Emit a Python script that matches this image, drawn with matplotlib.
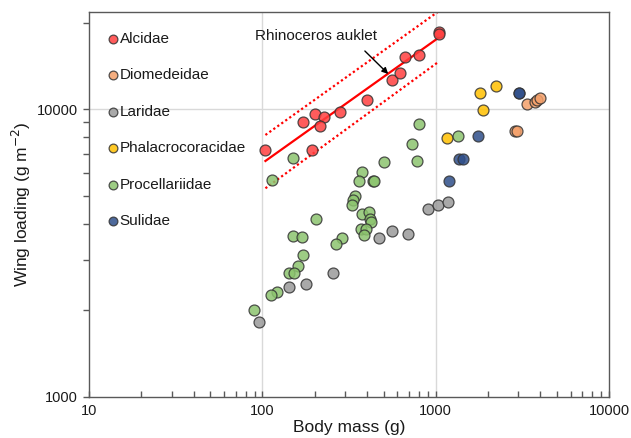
import matplotlib
matplotlib.use("Agg")
import matplotlib.pyplot as plt
from matplotlib.ticker import LogLocator, NullFormatter, FixedLocator, FixedFormatter

plt.rcParams['font.family'] = ['Liberation Sans', 'DejaVu Sans']

# ---------------- data ----------------
alcidae_x = [104, 172, 201, 226, 215, 192, 279, 402, 561, 619, 667, 800, 1039, 1039]
alcidae_y = [7220, 9050, 9630, 9380, 8770, 7220, 9760, 10780, 12650, 13350, 15170, 15490, 18620, 18240]

diomedeidae_x = [3373, 3720, 3850, 3991, 2854, 2930]
diomedeidae_y = [10430, 10560, 10750, 10970, 8400, 8430]

laridae_x = [95.5, 141.6, 177.6, 256, 470, 561, 694, 902, 1034, 1171]
laridae_y = [1824, 2403, 2467, 2694, 3575, 3781, 3674, 4499, 4645, 4758]

phalacro_x = [1806, 2226, 1880, 1160]
phalacro_y = [11370, 12080, 9945, 7930]

procell_x = [800, 732, 779, 502, 377, 360, 436, 443, 151, 114, 340, 335, 328,
             203, 375, 412, 417, 423, 370, 395, 385, 150.6, 168, 288, 267,
             172, 161, 142, 152, 121.7, 112, 89.7, 1352]
procell_y = [8890, 7570, 6610, 6555, 6066, 5630, 5607, 5652, 6770, 5675, 4992,
             4835, 4627, 4142, 4311, 4391, 4162, 4054, 3832, 3842, 3661, 3632,
             3594, 3557, 3407, 3105, 2856, 2688, 2688, 2314, 2259, 2003, 8054]

sulidae_x = [3008, 3008, 1752, 1356, 1430, 1197]
sulidae_y = [11420, 11420, 8092, 6732, 6716, 5617]

# regression line and prediction band for Alcidae
fit_x = [104, 1040]
fit_y = [6610, 17750]
band_upper_y = [8140, 21930]
band_lower_y = [5310, 14640]

series = [
    ("Alcidae", alcidae_x, alcidae_y, "#FF3F3F"),
    ("Diomedeidae", diomedeidae_x, diomedeidae_y, "#F4A06A"),
    ("Laridae", laridae_x, laridae_y, "#9A9A9A"),
    ("Phalacrocoracidae", phalacro_x, phalacro_y, "#FFC000"),
    ("Procellariidae", procell_x, procell_y, "#8CC46E"),
    ("Sulidae", sulidae_x, sulidae_y, "#2F4F8A"),
]

# ---------------- figure ----------------
fig = plt.figure(figsize=(6.31, 4.38), dpi=100)
ax = fig.add_axes([0.1414, 0.0943, 0.8237, 0.8783])
ax.set_xscale('log')
ax.set_yscale('log')
ax.set_xlim(10, 10000)
ax.set_ylim(1000, 21800)

# grid
for gx in [100, 1000]:
    ax.axvline(gx, color='#D9D9D9', lw=1.0, zorder=0)
ax.axhline(10000, color='#D9D9D9', lw=1.0, zorder=0)

# regression lines
ax.plot(fit_x, fit_y, color='#FF0000', lw=1.6, zorder=2)
ax.plot(fit_x, band_upper_y, color='#FF0000', lw=1.6, ls=(0, (1, 1.2)), zorder=2)
ax.plot(fit_x, band_lower_y, color='#FF0000', lw=1.6, ls=(0, (1, 1.2)), zorder=2)

for name, xs, ys, c in series:
    ax.scatter(xs, ys, s=62, color=c, edgecolor='#333333', linewidth=0.9,
               alpha=0.85, label=name, zorder=3)

ax.text(90.5, 17990, "Rhinoceros auklet", fontsize=11, color='#1a1a1a',
        va='center', ha='left', zorder=4)
ax.annotate("", xy=(532, 13270), xytext=(390, 15950),
            arrowprops=dict(arrowstyle='-|>', color='black', lw=1.0,
                            shrinkA=0, shrinkB=0, mutation_scale=9), zorder=4)

# axes styling
for sp in ax.spines.values():
    sp.set_color('#595959')
    sp.set_linewidth(1.0)

ax.xaxis.set_major_locator(FixedLocator([10, 100, 1000, 10000]))
ax.xaxis.set_major_formatter(FixedFormatter(['10', '100', '1000', '10000']))
ax.xaxis.set_minor_locator(LogLocator(base=10, subs=range(2, 10)))
ax.xaxis.set_minor_formatter(NullFormatter())
ax.yaxis.set_major_locator(FixedLocator([1000, 10000]))
ax.yaxis.set_major_formatter(FixedFormatter(['1000', '10000']))
ax.yaxis.set_minor_locator(LogLocator(base=10, subs=range(2, 10)))
ax.yaxis.set_minor_formatter(NullFormatter())

ax.tick_params(axis='x', which='both', direction='in', length=4, width=1.0,
               color='#595959', labelsize=10.5, labelcolor='#1a1a1a', pad=5)
ax.tick_params(axis='y', which='both', direction='out', length=4, width=1.0,
               color='#595959', labelsize=10.5, labelcolor='#1a1a1a', pad=4)

ax.set_xlabel("Body mass (g)", fontsize=12.5, color='#1a1a1a', labelpad=2)
ax.set_ylabel("Wing loading (g m$^{-2}$)", fontsize=12.5, color='#1a1a1a', labelpad=3)

leg = ax.legend(loc='upper left', bbox_to_anchor=(0.038, 0.948), frameon=False,
                fontsize=11, handlelength=0.5, handletextpad=0.2,
                labelspacing=1.47, borderpad=0, borderaxespad=0,
                markerscale=0.8, labelcolor='#1a1a1a')

fig.savefig("out.png", dpi=100)
